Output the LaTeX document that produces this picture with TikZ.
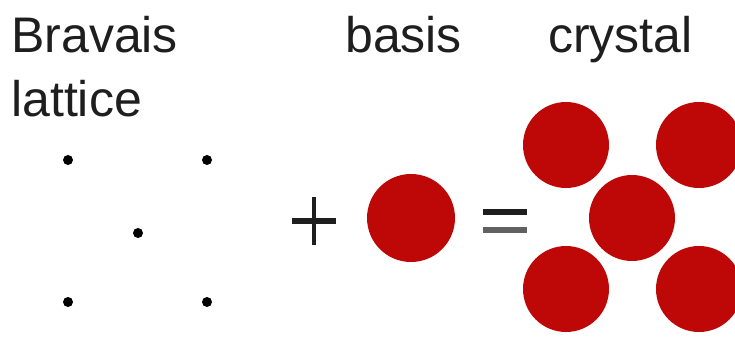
\documentclass[tikz,border=0pt]{standalone}
\usepackage{fontspec}
\setmainfont{Liberation Sans}
\definecolor{atomred}{RGB}{190,8,8}
\definecolor{txt}{RGB}{30,30,30}
\begin{document}
\begin{tikzpicture}[x=1pt,y=1pt,
  lbl/.style={anchor=base west,inner sep=0pt,text=txt,font=\fontsize{50}{64}\selectfont},
  latpt/.style={circle,fill=black,inner sep=0pt,minimum size=10pt},
  atom/.style={circle,fill=atomred,inner sep=0pt,minimum size=86pt},
  bar/.style={line width=5.5pt,draw=txt}]
\useasboundingbox (0,0) rectangle (735,337);
\clip (0,0) rectangle (735,337);
% labels
\node[lbl] (t1) at (11,337-53) {Bravais};
\node[lbl] (t2) at (11,337-117) {lattice};
\node[lbl] (t3) at (345,337-53) {basis};
\node[lbl] (t4) at (548,337-53) {crystal};
% lattice points
\node[latpt] (p1) at (68,337-160) {};
\node[latpt] (p2) at (207,337-160) {};
\node[latpt] (p3) at (138,337-233) {};
\node[latpt] (p4) at (68,337-302) {};
\node[latpt] (p5) at (207,337-302) {};
% plus
\coordinate (pl) at (314,337-221);
\draw[bar] ([xshift=-22pt]pl) -- ([xshift=22pt]pl);
\draw[bar,line width=4.5pt] ([yshift=-24pt]pl) -- ([yshift=24pt]pl);
% basis
\node[atom,minimum size=88pt] (b) at (411,337-218) {};
% equals
\coordinate (eq) at (505,337-221);
\draw[bar,line width=6pt] ([xshift=-22pt,yshift=9pt]eq) -- ([xshift=22pt,yshift=9pt]eq);
\draw[bar,line width=6pt,draw=txt!70] ([xshift=-22pt,yshift=-9pt]eq) -- ([xshift=22pt,yshift=-9pt]eq);
% crystal
\node[atom] (c1) at (566,337-145) {};
\node[atom] (c2) at (699,337-145) {};
\node[atom] (c3) at (632,337-218) {};
\node[atom] (c4) at (566,337-289) {};
\node[atom] (c5) at (699,337-289) {};
\end{tikzpicture}
\end{document}
